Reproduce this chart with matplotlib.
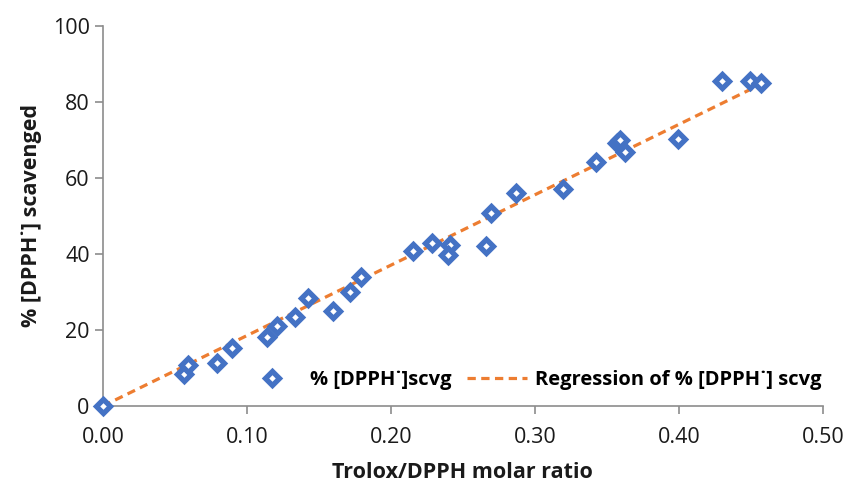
import numpy as np
import matplotlib.pyplot as plt

plt.rcParams['font.family'] = ['Open Sans', 'DejaVu Sans']

# Trolox/DPPH molar ratio vs % DPPH scavenged
ratio = [0.0, 0.0566, 0.0593, 0.0792, 0.0898, 0.1143, 0.121, 0.1337, 0.1425,
         0.1598, 0.1719, 0.1795, 0.2153, 0.2284, 0.2414, 0.2395, 0.2663,
         0.2698, 0.2866, 0.3199, 0.3428, 0.357, 0.3590, 0.3626, 0.3996,
         0.4297, 0.4493, 0.4569]
scav = [0.0, 8.4, 10.7, 11.4, 15.3, 18.1, 21.0, 23.4, 28.3,
        25.1, 30.0, 34.0, 40.8, 42.8, 42.4, 39.6, 42.2,
        50.7, 56.1, 57.1, 64.3, 69.1, 70.0, 66.7, 70.3,
        85.4, 85.5, 85.1]

xticks = [0.0, 0.1, 0.2, 0.3, 0.4, 0.5]
yticks = [0, 20, 40, 60, 80, 100]

blue = '#4472C4'
orange = '#ED7D31'
grey = '#8C8C8C'
txt = '#1a1a1a'

# regression through the origin
x = np.array(ratio)
y = np.array(scav)
slope = (x * y).sum() / (x * x).sum()
xr = np.array([0.0, x.max()])
yr = slope * xr

fig = plt.figure(figsize=(8.5, 4.88), dpi=100)
ax = fig.add_axes([0.121, 0.168, 0.847, 0.779])

ax.plot(ratio, scav, linestyle='none', marker='D', markersize=7,
        markerfacecolor='white', markeredgecolor=blue, markeredgewidth=3.8,
        label='% [DPPH\u02d9]scvg', zorder=3, clip_on=False)
ax.plot(xr, yr, color=orange, linewidth=2.3, linestyle=(0, (2.6, 1.7)),
        label='Regression of % [DPPH\u02d9] scvg', zorder=2)

ax.set_xlim(0, 0.5)
ax.set_ylim(0, 100)
ax.set_xticks(xticks)
ax.set_xticklabels(['%.2f' % t for t in xticks])
ax.set_yticks(yticks)

for s in ['top', 'right']:
    ax.spines[s].set_visible(False)
for s in ['left', 'bottom']:
    ax.spines[s].set_color(grey)
    ax.spines[s].set_linewidth(1.2)
ax.tick_params(colors=grey, labelcolor=txt, labelsize=15.5,
               length=6, width=1.2, direction='out')
ax.tick_params(axis='x', pad=9)

ax.set_xlabel('Trolox/DPPH molar ratio', fontsize=15.5, fontweight='bold',
              color=txt, labelpad=10)
ax.set_ylabel('% [DPPH\u02d9] scavenged', fontsize=15.5, fontweight='bold',
              color=txt, labelpad=8)

ax.legend(loc='lower right', bbox_to_anchor=(1.024, -0.005), ncol=2,
          frameon=False, prop={'size': 14.5, 'weight': 'bold'},
          handlelength=3.0, columnspacing=0.75, handletextpad=0.4)

fig.savefig('out.png', dpi=100)
